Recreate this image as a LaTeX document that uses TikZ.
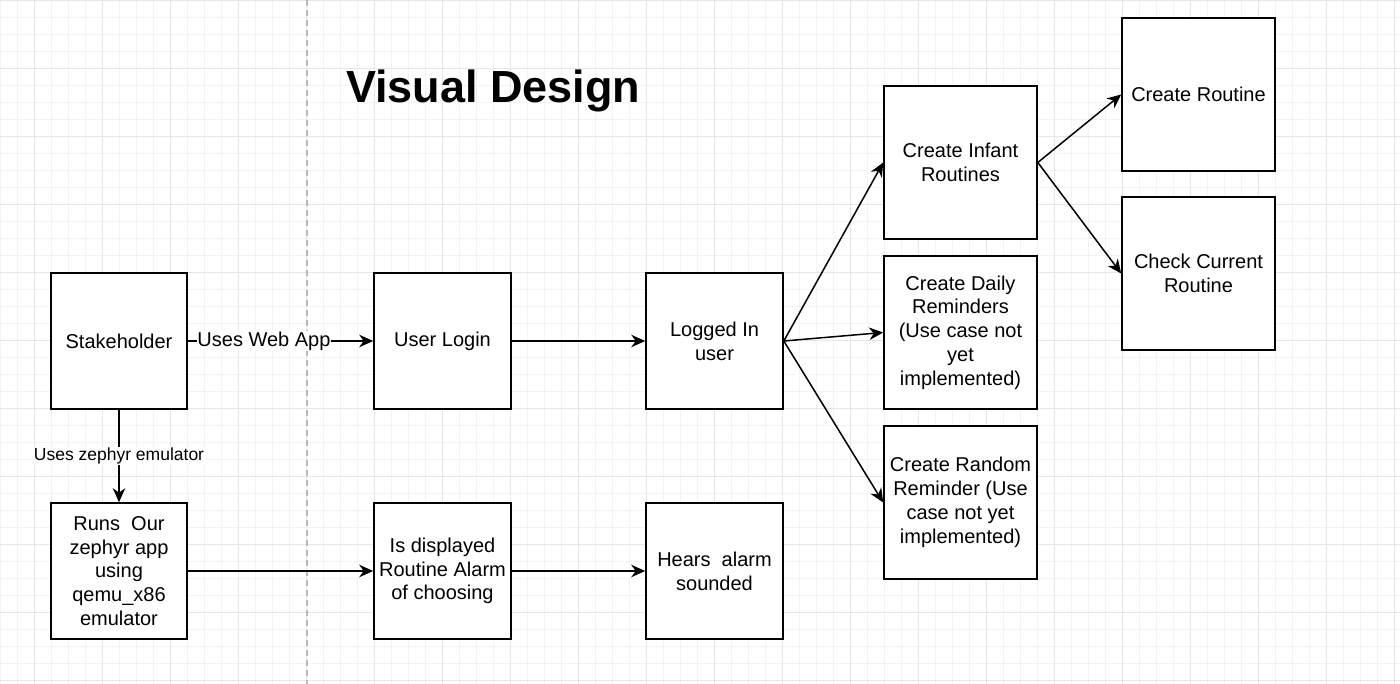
\documentclass[tikz,border=0pt]{standalone}
\usepackage{fontspec}
\setmainfont{Liberation Sans}
\usetikzlibrary{arrows.meta}
\definecolor{gridminor}{HTML}{F3F3F3}
\definecolor{gridmajor}{HTML}{E6E6E6}
\definecolor{sepline}{HTML}{B8B8B8}
\tikzset{
  box/.style={draw=black, line width=1.6pt, fill=white, align=center, inner sep=0pt,
    font=\fontsize{20}{23.8}\selectfont},
  sq/.style={box, minimum width=136pt, minimum height=136pt},
  bigsq/.style={box, minimum width=153pt, minimum height=153pt},
  conn/.style={line width=1.5pt, -{Stealth[length=14pt,width=12.5pt,inset=4.5pt]}},
  lbl/.style={fill=white, inner sep=0.5pt, font=\fontsize{20}{24}\selectfont},
  smalllbl/.style={fill=white, inner sep=0.5pt, font=\fontsize{17.5}{21}\selectfont},
  minorline/.style={draw=gridminor, line width=1pt},
  majorline/.style={draw=gridmajor, line width=1pt},
}
\begin{document}
\begin{tikzpicture}[x=1pt,y=-1pt]
\useasboundingbox (0,0) rectangle (1400,684);
\fill[white] (0,0) rectangle (1400,684);
% grid
\foreach \k in {0,...,82} \draw[minorline] ({0.7+17*\k},0) -- ({0.7+17*\k},684);
\foreach \k in {0,...,40} \draw[minorline] (0,{0.7+17*\k}) -- (1400,{0.7+17*\k});
\foreach \k in {0,...,20} \draw[majorline] ({34.7+68*\k},0) -- ({34.7+68*\k},684);
\foreach \k in {0,...,10} \draw[majorline] (0,{0.7+68*\k}) -- (1400,{0.7+68*\k});
% separator
\coordinate (septop) at (307,0);
\coordinate (sepbot) at (307,684);
\draw[sepline, line width=1.5pt, dash pattern=on 6pt off 4pt] (septop) -- (sepbot);
% title
\node[anchor=base, font=\fontsize{45}{54}\selectfont\bfseries, inner sep=0pt] (title) at (493.3,103) {Visual Design};
% nodes
\node[sq] (sh) at (119,341) {Stakeholder};
\node[sq, minimum width=137pt] (login) at (442.5,341) {User Login};
\node[sq, minimum width=137pt] (logged) at (714.5,341) {Logged In\\user};
\node[sq] (runs) at (119,571) {Runs\ \ Our\\zephyr app\\using\\qemu\_x86\\emulator};
\node[sq, minimum width=137pt] (disp) at (442.5,571) {Is displayed\\Routine Alarm\\of choosing};
\node[sq, minimum width=137pt] (hears) at (714.5,571) {Hears\ \ alarm\\sounded};
\node[bigsq] (infant) at (960.5,162.5) {Create Infant\\Routines};
\node[bigsq] (daily) at (960.5,332.5) {Create Daily\\Reminders\\(Use case not\\yet\\implemented)};
\node[bigsq] (random) at (960.5,502.5) {Create Random\\Reminder (Use\\case not yet\\implemented)};
\node[bigsq] (croutine) at (1198.5,94.5) {Create Routine};
\node[bigsq] (check) at (1198.5,273.5) {Check Current\\Routine};
% connectors
\draw[conn] (sh.east) -- (login.west);
\node[lbl] (weblbl) at (264,341) {Uses Web App};
\draw[conn] (sh.south) -- (runs.north);
\node[smalllbl] (zephlbl) at (119,456) {Uses zephyr emulator};
\draw[conn] (login.east) -- (logged.west);
\draw[conn] (runs.east) -- (disp.west);
\draw[conn] (disp.east) -- (hears.west);
\draw[conn] (logged.east) -- (infant.west);
\draw[conn] (logged.east) -- (daily.west);
\draw[conn] (logged.east) -- (random.west);
\draw[conn] (infant.east) -- (croutine.west);
\draw[conn] (infant.east) -- (check.west);
\end{tikzpicture}
\end{document}
